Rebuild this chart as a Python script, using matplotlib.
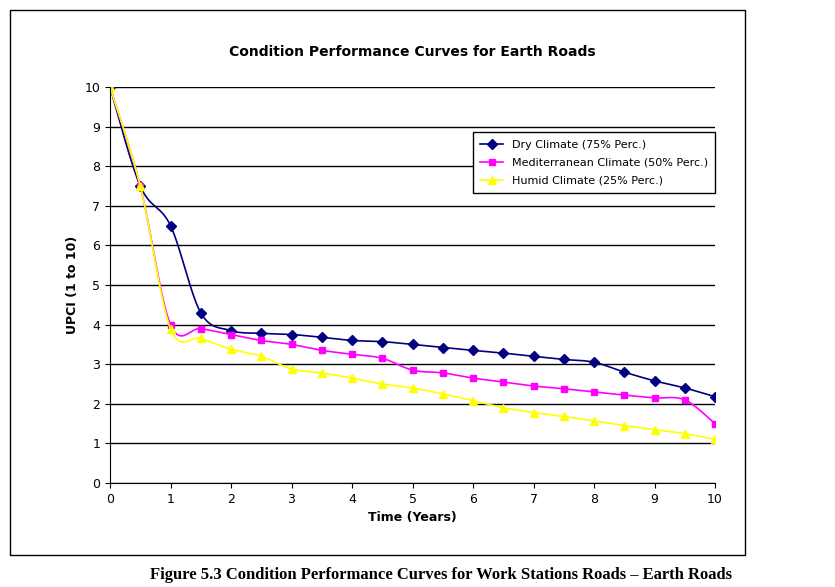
import numpy as np
import matplotlib.pyplot as plt
from matplotlib.patches import Rectangle

anos = np.arange(0, 10.5, 0.5)
seco = [10, 7.5, 6.5, 4.3, 3.85, 3.78, 3.75, 3.68, 3.6, 3.57, 3.5, 3.42, 3.35, 3.28,
        3.2, 3.12, 3.05, 2.8, 2.58, 2.4, 2.18]
medit = [10, 7.5, 4.0, 3.9, 3.75, 3.6, 3.5, 3.35, 3.25, 3.15, 2.85, 2.78, 2.65, 2.55,
         2.45, 2.38, 2.3, 2.22, 2.15, 2.1, 1.5]
humedo = [10, 7.5, 3.9, 3.65, 3.38, 3.2, 2.88, 2.78, 2.65, 2.5, 2.4, 2.25, 2.08, 1.9,
          1.78, 1.68, 1.57, 1.45, 1.35, 1.25, 1.1]


# curva suavizada estilo Excel (Catmull-Rom)
def suavizar(x, y, n=20):
    x = np.asarray(x, float)
    y = np.asarray(y, float)
    px = np.r_[x[0], x, x[-1]]
    py = np.r_[y[0], y, y[-1]]
    xs, ys = [], []
    t = np.linspace(0, 1, n, endpoint=False)
    for i in range(1, len(px) - 2):
        for p, out in ((px, xs), (py, ys)):
            p0, p1, p2, p3 = p[i - 1], p[i], p[i + 1], p[i + 2]
            out.extend(0.5 * (2 * p1 + (-p0 + p2) * t + (2 * p0 - 5 * p1 + 4 * p2 - p3) * t**2
                              + (-p0 + 3 * p1 - 3 * p2 + p3) * t**3))
    xs.append(x[-1])
    ys.append(y[-1])
    return xs, ys


fig = plt.figure(figsize=(8.35, 5.87), dpi=100)
fig.patches.append(Rectangle((10 / 835, 1 - 555 / 587), 735 / 835, 545 / 587,
                             transform=fig.transFigure, fill=False, ec="black", lw=1))
ax = fig.add_axes([110 / 835, 1 - 483 / 587, 605 / 835, 396 / 587])

series = [(seco, "#000080", "D", 5, "Dry Climate (75% Perc.)"),
          (medit, "#FF00FF", "s", 5, "Mediterranean Climate (50% Perc.)"),
          (humedo, "#FFFF00", "^", 6, "Humid Climate (25% Perc.)")]
for y, c, m, ms, lab in series:
    xs, ys = suavizar(anos, y)
    ax.plot(xs, ys, color=c, lw=1.2)
    ax.plot(anos, y, ls="none", marker=m, ms=ms, color=c)
    ax.plot([], [], color=c, marker=m, ms=ms, lw=1.2, label=lab)

ax.set_xlim(0, 10)
ax.set_ylim(0, 10)
ax.set_xticks(range(11))
ax.set_yticks(range(11))
ax.grid(axis="y", color="black", lw=1)
ax.tick_params(labelsize=9, direction="out")
for s in ["top", "right"]:
    ax.spines[s].set_visible(False)
ax.set_xlabel("Time (Years)", fontsize=9, fontweight="bold")
ax.set_ylabel("UPCI (1 to 10)", fontsize=9, fontweight="bold")
ax.set_title("Condition Performance Curves for Earth Roads", fontsize=10,
             fontweight="bold", pad=22)
ax.legend(loc="upper right", bbox_to_anchor=(1.01, 0.9), fontsize=8, frameon=True,
          fancybox=False, edgecolor="black", framealpha=1, borderpad=0.7, labelspacing=0.7)

fig.text(0.18, 1 - 575 / 587, "Figure 5.3 Condition Performance Curves for Work Stations Roads \u2013 Earth Roads",
         fontsize=12, fontweight="bold", family="Liberation Serif", va="center")
fig.savefig("out.png")
